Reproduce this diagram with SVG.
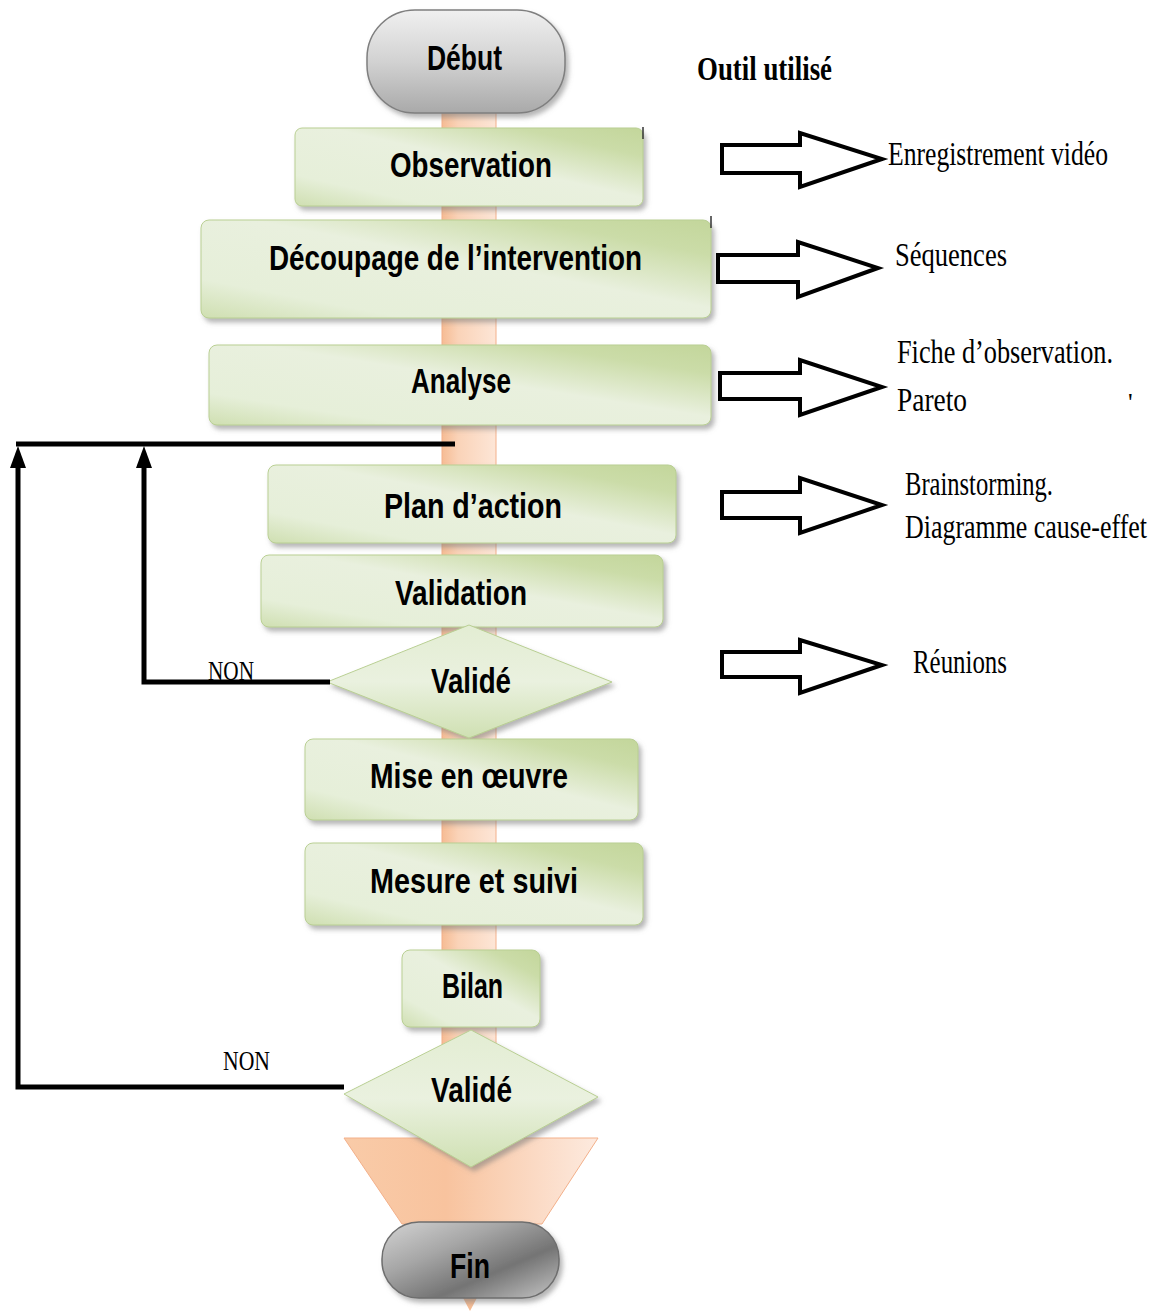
<svg xmlns="http://www.w3.org/2000/svg" width="1172" height="1311" viewBox="0 0 1172 1311">
  <style>
    .box { stroke: #b9cf93; stroke-width: 1; filter: url(#shadow); }
    .lbl { font-family: "Liberation Sans", Arial, sans-serif; font-weight: bold; font-size: 35px; fill: #000; }
    .tool { font-family: "Liberation Serif", "Times New Roman", serif; font-size: 26px; fill: #000; }
    .non { font-family: "Liberation Serif", "Times New Roman", serif; font-size: 21px; fill: #000; }
    .flow { fill: none; stroke: #000; stroke-width: 5; stroke-linejoin: miter; }
    .block { fill: #fff; stroke: #000; stroke-width: 4; stroke-linejoin: miter; }
    .edge { stroke: #333; stroke-width: 1.5; }
  </style>
  <defs>
    <linearGradient id="green" x1="0" y1="1" x2="1" y2="0">
      <stop offset="0" stop-color="#cfdfb1"/>
      <stop offset="0.2" stop-color="#e6efd9"/>
      <stop offset="0.55" stop-color="#e9f0de"/>
      <stop offset="0.82" stop-color="#cbdca8"/>
      <stop offset="1" stop-color="#c3d69b"/>
    </linearGradient>
    <linearGradient id="greenDiamond" x1="0" y1="0" x2="0" y2="1">
      <stop offset="0" stop-color="#e3edd3"/>
      <stop offset="0.5" stop-color="#eaf1df"/>
      <stop offset="1" stop-color="#cfe0b2"/>
    </linearGradient>
    <linearGradient id="grayTop" x1="0" y1="0" x2="0" y2="1">
      <stop offset="0" stop-color="#f0f0f0"/>
      <stop offset="0.5" stop-color="#d2d2d2"/>
      <stop offset="1" stop-color="#a9a9a9"/>
    </linearGradient>
    <linearGradient id="grayEnd" x1="0" y1="0" x2="1" y2="1">
      <stop offset="0" stop-color="#d4d4d4"/>
      <stop offset="0.35" stop-color="#a6a6a6"/>
      <stop offset="0.65" stop-color="#747474"/>
      <stop offset="1" stop-color="#c6c6c6"/>
    </linearGradient>
    <linearGradient id="peach" x1="0" y1="0" x2="1" y2="0">
      <stop offset="0" stop-color="#f6bc94"/>
      <stop offset="0.3" stop-color="#fad3b8"/>
      <stop offset="1" stop-color="#fde6d7"/>
    </linearGradient>
    <linearGradient id="funnel" x1="0" y1="0" x2="1" y2="0">
      <stop offset="0" stop-color="#f9cba8"/>
      <stop offset="0.4" stop-color="#f8c39e"/>
      <stop offset="1" stop-color="#fdeadf"/>
    </linearGradient>
    <filter id="shadow" x="-5%" y="-10%" width="112%" height="130%">
      <feDropShadow dx="3" dy="4" stdDeviation="2.5" flood-color="#7a7a7a" flood-opacity="0.55"/>
    </filter>
    <marker id="arrowUp" viewBox="0 0 22 16" refX="2" refY="8" markerWidth="22" markerHeight="16" markerUnits="userSpaceOnUse" orient="auto">
      <path d="M0,0 L22,8 L0,16 Z" fill="#000"/>
    </marker>
  </defs>

  <rect width="1172" height="1311" fill="#fff"/>

  <!-- central flow band, funnel and exit tip -->
  <g id="spine">
    <rect x="442" y="100" width="54" height="1045" fill="url(#peach)" stroke="#f3b08a" stroke-width="1"/>
    <polygon points="344,1138 598,1138 542,1224 402,1224" fill="url(#funnel)" stroke="#f3b08a" stroke-width="1"/>
    <polygon points="462,1296 478,1296 470,1311" fill="#f6bc94"/>
  </g>

  <g id="debut">
    <rect x="367" y="10" width="198" height="103" rx="48" fill="url(#grayTop)" stroke="#7f7f7f" stroke-width="1.5" filter="url(#shadow)"/>
    <text class="lbl" x="427" y="70" textLength="75" lengthAdjust="spacingAndGlyphs">Début</text>
  </g>

  <g id="observation">
    <rect class="box" x="295" y="128" width="348" height="78" rx="7" fill="url(#green)"/>
    <line class="edge" x1="643" y1="127" x2="643" y2="139"/>
    <text class="lbl" x="390" y="177" textLength="162" lengthAdjust="spacingAndGlyphs">Observation</text>
  </g>

  <g id="decoupage">
    <rect class="box" x="201" y="220" width="510" height="98" rx="8" fill="url(#green)"/>
    <line class="edge" x1="711" y1="216" x2="711" y2="228"/>
    <text class="lbl" x="269" y="270" textLength="373" lengthAdjust="spacingAndGlyphs">Découpage de l’intervention</text>
  </g>

  <g id="analyse">
    <rect class="box" x="209" y="345" width="502" height="80" rx="8" fill="url(#green)"/>
    <text class="lbl" x="411" y="393" textLength="100" lengthAdjust="spacingAndGlyphs">Analyse</text>
  </g>

  <g id="plan-action">
    <rect class="box" x="268" y="465" width="408" height="78" rx="8" fill="url(#green)"/>
    <text class="lbl" x="384" y="518" textLength="178" lengthAdjust="spacingAndGlyphs">Plan d’action</text>
  </g>

  <g id="validation">
    <rect class="box" x="261" y="555" width="402" height="72" rx="8" fill="url(#green)"/>
    <text class="lbl" x="395" y="605" textLength="132" lengthAdjust="spacingAndGlyphs">Validation</text>
  </g>

  <g id="valide-1">
    <polygon points="469,625 612,682 469,738 327,682" fill="url(#greenDiamond)" stroke="#b9cf93" stroke-width="1" filter="url(#shadow)"/>
    <text class="lbl" x="431" y="693" textLength="80" lengthAdjust="spacingAndGlyphs">Validé</text>
  </g>

  <g id="mise-en-oeuvre">
    <rect class="box" x="305" y="739" width="333" height="81" rx="8" fill="url(#green)"/>
    <text class="lbl" x="370" y="788" textLength="198" lengthAdjust="spacingAndGlyphs">Mise en œuvre</text>
  </g>

  <g id="mesure-suivi">
    <rect class="box" x="305" y="843" width="338" height="82" rx="8" fill="url(#green)"/>
    <text class="lbl" x="370" y="893" textLength="208" lengthAdjust="spacingAndGlyphs">Mesure et suivi</text>
  </g>

  <g id="bilan">
    <rect class="box" x="402" y="950" width="138" height="77" rx="8" fill="url(#green)"/>
    <text class="lbl" x="442" y="998" textLength="61" lengthAdjust="spacingAndGlyphs">Bilan</text>
  </g>

  <g id="valide-2">
    <polygon points="471,1030 598,1097 471,1167 344,1094" fill="url(#greenDiamond)" stroke="#b9cf93" stroke-width="1" filter="url(#shadow)"/>
    <text class="lbl" x="431" y="1102" textLength="81" lengthAdjust="spacingAndGlyphs">Validé</text>
  </g>

  <g id="fin">
    <rect x="382" y="1222" width="177" height="76" rx="37" fill="url(#grayEnd)" stroke="#6e6e6e" stroke-width="1.5" filter="url(#shadow)"/>
    <text class="lbl" x="450" y="1278" textLength="40" lengthAdjust="spacingAndGlyphs">Fin</text>
  </g>

  <!-- feedback loops -->
  <g id="connectors">
    <path class="flow" d="M455,444 H16"/>
    <path class="flow" d="M330,682 H144 V466" marker-end="url(#arrowUp)"/>
    <path class="flow" d="M344,1087 H18 V466" marker-end="url(#arrowUp)"/>
    <text class="non" transform="translate(208,680) scale(1,1.3)" textLength="46" lengthAdjust="spacingAndGlyphs">NON</text>
    <text class="non" transform="translate(223,1070) scale(1,1.3)" textLength="47" lengthAdjust="spacingAndGlyphs">NON</text>
  </g>

  <!-- tools column; serif captions are drawn tall and narrow -->
  <g id="tools">
    <text class="tool" transform="translate(697,80) scale(1,1.3)" font-weight="bold" textLength="135" lengthAdjust="spacingAndGlyphs">Outil utilisé</text>

    <path class="block" d="M722,145 H800 V133 L882,159 L800,187 V173 H722 Z"/>
    <text class="tool" transform="translate(888,165) scale(1,1.3)" textLength="220" lengthAdjust="spacingAndGlyphs">Enregistrement vidéo</text>

    <path class="block" d="M718,255 H798 V242 L878,268 L798,297 V282 H718 Z"/>
    <text class="tool" transform="translate(895,266) scale(1,1.3)" textLength="112" lengthAdjust="spacingAndGlyphs">Séquences</text>

    <path class="block" d="M720,373 H800 V360 L882,387 L800,415 V399 H720 Z"/>
    <text class="tool" transform="translate(897,363) scale(1,1.3)" textLength="216" lengthAdjust="spacingAndGlyphs">Fiche d’observation.</text>
    <text class="tool" transform="translate(897,411) scale(1,1.3)" textLength="70" lengthAdjust="spacingAndGlyphs">Pareto</text>
    <text class="tool" x="1128" y="411" font-size="12">'</text>

    <path class="block" d="M722,492 H800 V478 L882,505 L800,533 V518 H722 Z"/>
    <text class="tool" transform="translate(905,495) scale(1,1.3)" textLength="148" lengthAdjust="spacingAndGlyphs">Brainstorming.</text>
    <text class="tool" transform="translate(905,538) scale(1,1.3)" textLength="242" lengthAdjust="spacingAndGlyphs">Diagramme cause-effet</text>

    <path class="block" d="M722,652 H800 V640 L882,665 L800,693 V677 H722 Z"/>
    <text class="tool" transform="translate(913,673) scale(1,1.3)" textLength="94" lengthAdjust="spacingAndGlyphs">Réunions</text>
  </g>
</svg>
